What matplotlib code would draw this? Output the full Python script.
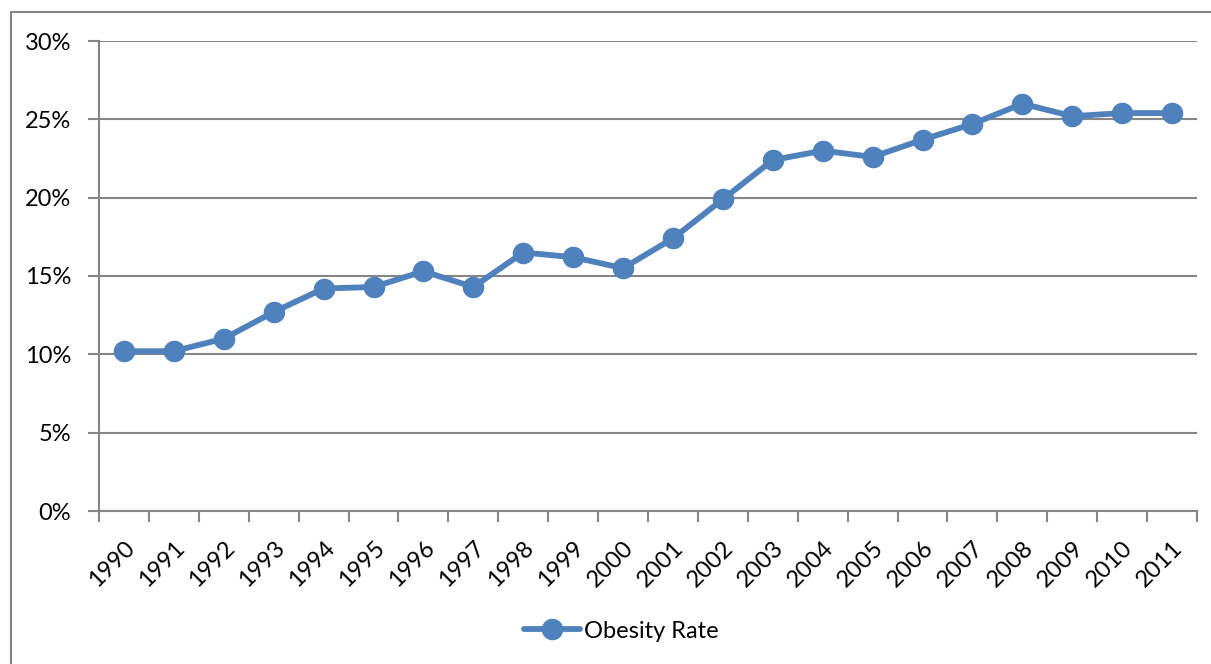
import matplotlib
matplotlib.use("Agg")
import matplotlib.pyplot as plt
from matplotlib.patches import Rectangle
from matplotlib.ticker import FixedLocator, FuncFormatter

years = [str(y) for y in range(1990, 2012)]
obesity_rate = [10.2, 10.2, 11.0, 12.7, 14.2, 14.3, 15.3, 14.3, 16.5, 16.2, 15.5,
                17.4, 19.9, 22.4, 23.0, 22.6, 23.7, 24.7, 26.0, 25.2, 25.4, 25.4]
y_ticks = [0, 5, 10, 15, 20, 25, 30]
series_name = "Obesity Rate"

plt.rcParams['font.family'] = ['Lato', 'DejaVu Sans']
W, H = 1211, 664
fig = plt.figure(figsize=(W / 100, H / 100), dpi=100)

# outer chart border
fig.patches.append(Rectangle((11 / W, -0.1), 1.2, 1 - 12 / H + 0.1,
                             transform=fig.transFigure, fill=False,
                             edgecolor='#868686', linewidth=1.5))

ax = fig.add_axes([99 / W, 1 - 511 / H, (1197 - 99) / W, (511 - 41) / H])
x = list(range(len(years)))
blue = '#4F81BD'
ax.plot(x, obesity_rate, color=blue, linewidth=4.2, marker='o', markersize=14.5,
        label=series_name, solid_capstyle='round', zorder=3)

ax.set_xlim(-0.5, len(years) - 0.5)
ax.set_ylim(0, 30)
ax.set_yticks(y_ticks)
ax.yaxis.set_major_formatter(FuncFormatter(lambda v, p: f"{int(v)}%"))
ax.grid(axis='y', color='#868686', linewidth=1.5)
ax.set_axisbelow(True)

ax.set_xticks(x)
ax.set_xticklabels(years, rotation=45, ha='right', rotation_mode='anchor')
ax.xaxis.set_minor_locator(FixedLocator([i - 0.5 for i in range(len(years) + 1)]))
ax.tick_params(axis='x', which='major', length=0, pad=19, labelsize=17)
ax.tick_params(axis='x', which='minor', length=8, width=1.5, color='#868686')
ax.tick_params(axis='y', length=8, width=1.5, color='#868686', labelsize=17, pad=12)

for s in ['top', 'right']:
    ax.spines[s].set_visible(False)
for s in ['left', 'bottom']:
    ax.spines[s].set_color('#868686')
    ax.spines[s].set_linewidth(1.5)

leg = fig.legend(loc='center', bbox_to_anchor=(621 / W, 1 - 631 / H), frameon=False,
                 fontsize=17, handlelength=2.4, handletextpad=0.15)

fig.savefig("out.png", dpi=100)
